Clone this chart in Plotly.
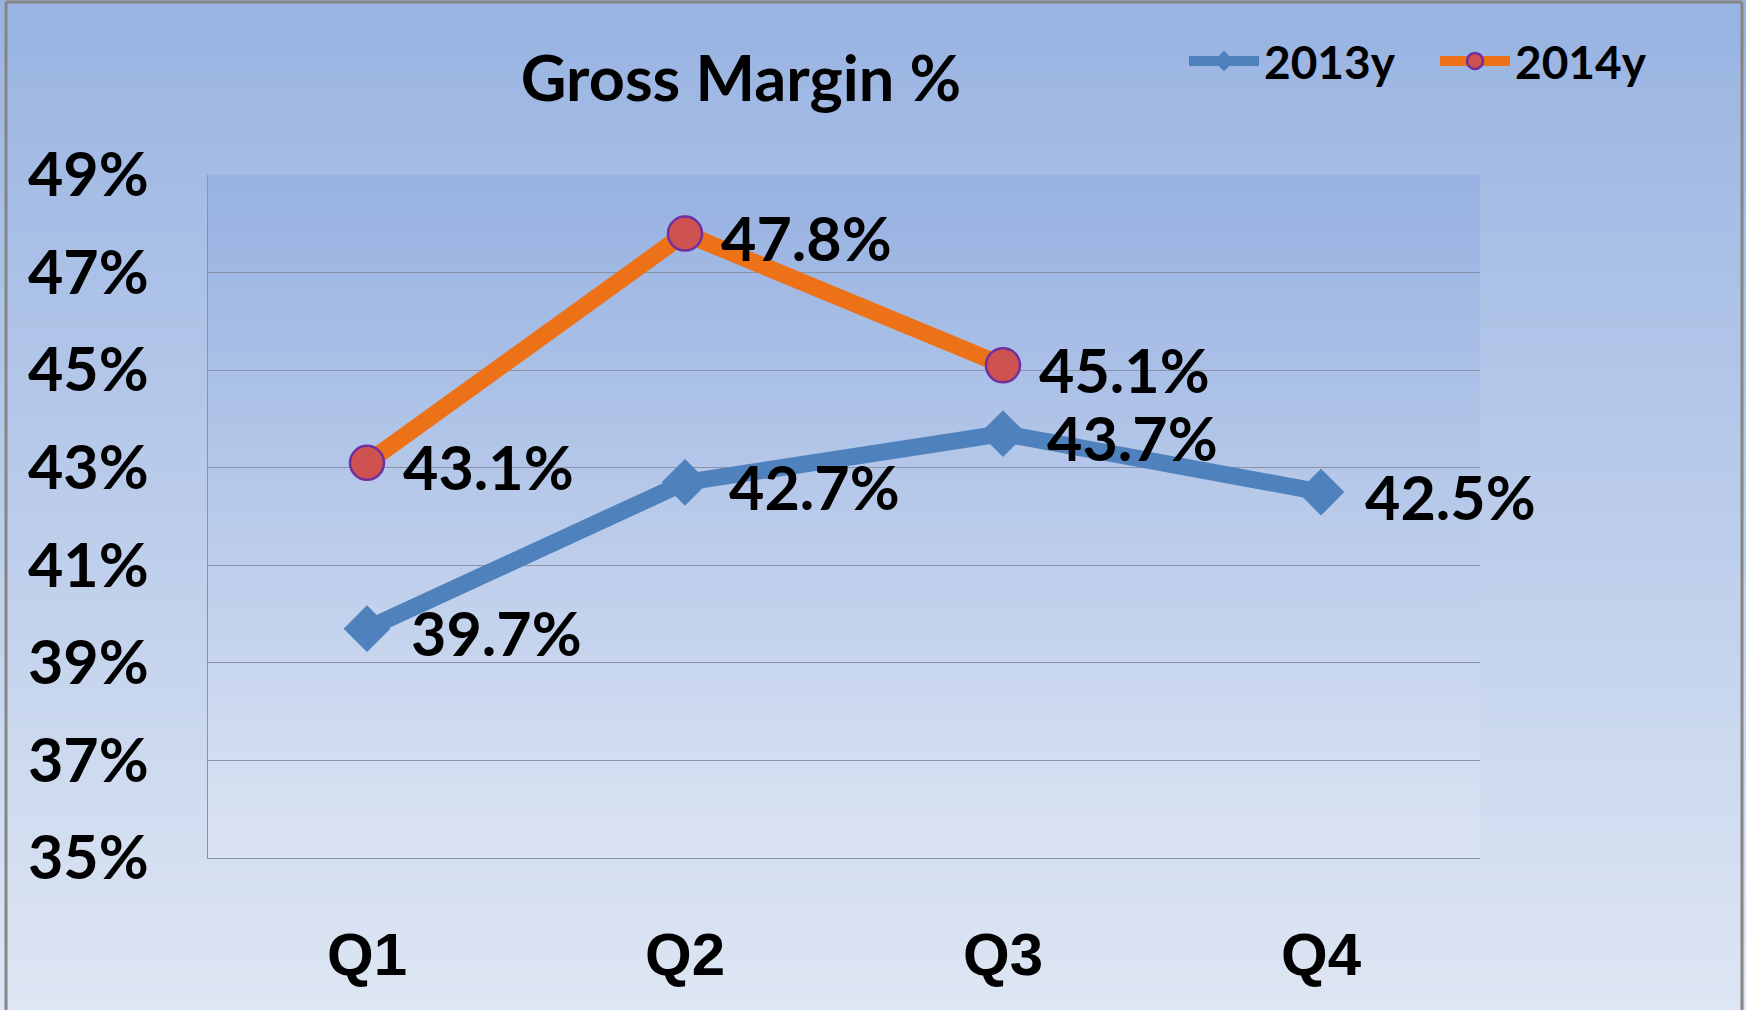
import plotly.graph_objects as go

# ---- data ----
quarters = ["Q1", "Q2", "Q3", "Q4"]
gm_2013 = [39.7, 42.7, 43.7, 42.5]
gm_2014 = [43.1, 47.8, 45.1]
series_names = ["2013y", "2014y"]
y_ticks = [35, 37, 39, 41, 43, 45, 47, 49]
y_tick_labels = ["35%", "37%", "39%", "41%", "43%", "45%", "47%", "49%"]
title_text = "Gross Margin %"

W, H = 1746, 1010
L, R, T, B = 208, 1480, 175, 858  # plot area in pixels


def px_x(px):
    return (px - L) / (R - L)


def px_y(py):
    return (B - py) / (B - T)


def lerp(c0, c1, t):
    return tuple(round(a + (b - a) * t) for a, b in zip(c0, c1))


shapes = []
# outer background gradient
top_c, bot_c = (152, 179, 226), (222, 230, 243)
step = 10
for y0 in range(0, H, step):
    c = lerp(top_c, bot_c, (y0 + step / 2) / H)
    shapes.append(dict(type="rect", xref="paper", yref="paper", layer="below",
                       x0=px_x(0), x1=px_x(W), y0=px_y(y0 + step + 1), y1=px_y(y0),
                       line=dict(width=0), fillcolor="rgb(%d,%d,%d)" % c))
# plot area gradient
in_top, in_bot = (150, 177, 225), (219, 228, 243)
for y0 in range(T, B, step):
    y1 = min(y0 + step + 1, B)
    c = lerp(in_top, in_bot, (y0 + step / 2 - T) / (B - T))
    shapes.append(dict(type="rect", xref="paper", yref="paper", layer="below",
                       x0=0, x1=1, y0=px_y(y1), y1=px_y(y0),
                       line=dict(width=0), fillcolor="rgb(%d,%d,%d)" % c))
# frame border (top, left, right)
border = dict(color="#858585", width=3)
shapes.append(dict(type="line", xref="paper", yref="paper", x0=px_x(6), x1=px_x(1742),
                   y0=px_y(2), y1=px_y(2), line=border))
shapes.append(dict(type="line", xref="paper", yref="paper", x0=px_x(6), x1=px_x(6),
                   y0=px_y(2), y1=px_y(1012), line=border))
shapes.append(dict(type="line", xref="paper", yref="paper", x0=px_x(1742), x1=px_x(1742),
                   y0=px_y(2), y1=px_y(1012), line=border))

label_font = dict(family="Lato", size=61, color="black", weight="bold")

fig = go.Figure()
fig.add_trace(go.Scatter(
    x=quarters, y=gm_2013, name=series_names[0], mode="lines+markers",
    line=dict(color="#4F81BD", width=17),
    marker=dict(symbol="diamond", size=36, color="#4F81BD"),
))
fig.add_trace(go.Scatter(
    x=quarters[:len(gm_2014)], y=gm_2014, name=series_names[1], mode="lines+markers",
    line=dict(color="#ED7117", width=17),
    marker=dict(symbol="circle", size=34, color="#CD5250",
                line=dict(color="#7030A0", width=2.5)),
))

# data labels (value labels to the right of each point)
annotations = []
for xs, ys, dx in ((quarters, gm_2013, 42), (quarters[:len(gm_2014)], gm_2014, 34)):
    for q, v in zip(xs, ys):
        annotations.append(dict(x=q, y=v, xref="x", yref="y", text="%.1f%%" % v,
                                showarrow=False, xanchor="left", yanchor="middle",
                                xshift=dx, yshift=-4, font=label_font))

grid_c = "#8A92A6"
fig.update_layout(
    width=W, height=H,
    margin=dict(l=L, r=W - R, t=T, b=H - B, pad=0, autoexpand=False),
    paper_bgcolor="rgb(190,207,236)",
    plot_bgcolor="rgba(0,0,0,0)",
    shapes=shapes,
    annotations=annotations,
    title=dict(text=title_text, x=741 / W, xanchor="center", xref="container",
               y=1 - 79 / H, yanchor="middle",
               font=dict(family="Lato", size=63, color="black", weight="bold")),
    showlegend=True,
    legend=dict(orientation="h", x=px_x(1184), xanchor="left", y=px_y(61), yanchor="middle",
                font=dict(family="Lato", size=46, color="black", weight="bold"),
                bgcolor="rgba(0,0,0,0)", itemwidth=70, entrywidth=166,
                entrywidthmode="pixels"),
    xaxis=dict(type="category", range=[-0.5, 3.5], showgrid=False,
               showline=True, linecolor=grid_c, linewidth=1.3,
               ticks="outside", ticklen=44, tickcolor="rgba(0,0,0,0)",
               tickfont=dict(family="Liberation Sans", size=60, color="black", weight="bold")),
    yaxis=dict(range=[35, 49], tickmode="array", tickvals=y_ticks, ticktext=y_tick_labels,
               showgrid=True, gridcolor=grid_c, gridwidth=1.3,
               showline=True, linecolor=grid_c, linewidth=1.3, zeroline=False,
               ticks="outside", ticklen=46, tickcolor="rgba(0,0,0,0)",
               tickfont=label_font),
)

fig.write_html("out.html")
